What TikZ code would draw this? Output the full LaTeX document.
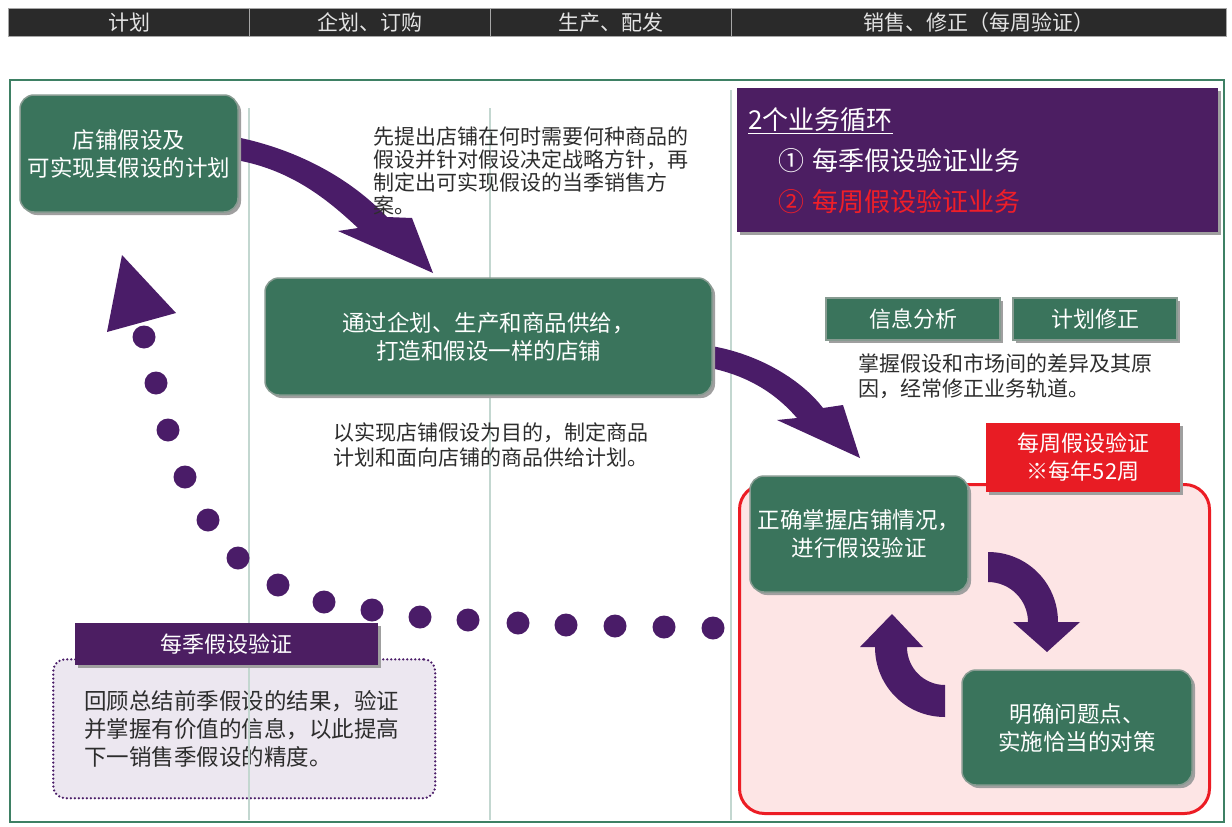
\documentclass[tikz,border=0pt]{standalone}
\usepackage{fontspec}
\setmainfont{Noto Sans CJK SC}
\usetikzlibrary{shadows}
\definecolor{hdr}{RGB}{42,42,42}
\definecolor{hdrtxt}{RGB}{228,228,228}
\definecolor{framegreen}{RGB}{62,128,100}
\definecolor{colline}{RGB}{195,215,208}
\definecolor{gfill}{RGB}{58,116,92}
\definecolor{gedge}{RGB}{135,155,145}
\definecolor{purp}{RGB}{74,28,104}
\definecolor{purpbox}{RGB}{76,30,98}
\definecolor{redbox}{RGB}{232,28,36}
\definecolor{redline}{RGB}{236,28,36}
\definecolor{pinkfill}{RGB}{253,229,229}
\definecolor{lav}{RGB}{236,231,240}
\definecolor{bodytxt}{RGB}{45,45,45}
\definecolor{redtxt}{RGB}{240,30,40}
\begin{document}
\begin{tikzpicture}[x=1pt,y=-1pt,
  hdrcell/.style={draw=gray!70, line width=1pt, fill=hdr, text=hdrtxt, minimum height=28pt, inner sep=0pt, anchor=north west, font=\fontsize{21}{24}\selectfont},
  gshadow/.style={drop shadow={shadow xshift=3pt, shadow yshift=-3pt, fill=gray!75, opacity=1}},
  gbox/.style={gshadow, fill=gfill, draw=gedge, line width=1.5pt, rounded corners=14pt, text=white, align=center, inner sep=0pt, font=\fontsize{22.5}{28}\selectfont},
  gtab/.style={gshadow, fill=gfill, draw=gedge, line width=1.5pt, text=white, inner sep=0pt, font=\fontsize{22}{26}\selectfont},
  bodytext/.style={text=bodytxt, align=left, inner sep=0pt, anchor=north west},
  bigarrow/.style={fill=purp},
]
\useasboundingbox (0,0) rectangle (1232,827);
\fill[white] (0,0) rectangle (1232,827);

% header
\node[hdrcell, minimum width=241pt] (h1) at (8,8) {计划};
\node[hdrcell, minimum width=241pt] (h2) at (249,8) {企划、订购};
\node[hdrcell, minimum width=241pt] (h3) at (490,8) {生产、配发};
\node[hdrcell, minimum width=495pt] (h4) at (731,8) {销售、修正（每周验证）};

% main frame
\draw[draw=framegreen, line width=2pt] (10,80) rectangle (1224,822);

% lavender dotted box
\node[draw=purp, line width=2.5pt, dash pattern=on 0pt off 4pt, line cap=round, fill=lav, rounded corners=12pt,
  minimum width=382pt, minimum height=139pt, inner sep=0pt, text width=320pt, align=left, text=bodytxt,
  font=\fontsize{22.5}{28}\selectfont, anchor=north west] (lavbox) at (52,658)
  {回顾总结前季假设的结果，验证\\并掌握有价值的信息，以此提高\\下一销售季假设的精度。};

% column lines
\draw[draw=colline, line width=1.2pt] (249,108) -- (249,820);
\draw[draw=colline, line width=1.2pt] (490,108) -- (490,820);
\draw[draw=colline, line width=1.2pt] (731,90) -- (731,820);

% seasonal header
\node[gshadow, fill=purpbox, text=white, minimum width=303pt, minimum height=42pt, inner sep=0pt,
  font=\fontsize{22}{26}\selectfont, anchor=north west] (qhead) at (75,623) {每季假设验证};

% big arrows
\fill[bigarrow] (236,137) .. controls (300,150) and (352,180) .. (387,217) -- (412,218) -- (433,273)
  -- (338,231) -- (358,228) .. controls (328,200) and (292,170) .. (236,160) -- cycle;
\fill[bigarrow] (705,345) .. controls (755,352) and (800,378) .. (823,408) -- (843,405) -- (860,458)
  -- (777,420) -- (797,418) .. controls (778,396) and (750,375) .. (705,367) -- cycle;

% dotted return arrow
\foreach \p in {(144,337),(156,383),(168,430),(185,477),(208,520),(238,558),(278,585),(324,602),(372,610),(420,617),(468,620),(518,623),(566,625),(615,626),(664,627),(713,628)}
  \fill[purp] \p circle[radius=11.5pt];
\fill[purp] (122,255) -- (176,313) -- (107,332) -- cycle;

% green boxes
\node[gbox, minimum width=218pt, minimum height=117pt] (plan) at (129,153.5) {店铺假设及\\可实现其假设的计划};
\node[gbox, minimum width=447pt, minimum height=117pt] (supply) at (488.5,336.5) {通过企划、生产和商品供给，\\打造和假设一样的店铺};

% texts
\node[bodytext, font=\fontsize{21}{23}\selectfont] (t1) at (373,127) {先提出店铺在何时需要何种商品的\\假设并针对假设决定战略方针，再\\制定出可实现假设的当季销售方\\案。};
\node[bodytext, font=\fontsize{21}{25}\selectfont] (t2) at (333,423) {以实现店铺假设为目的，制定商品\\计划和面向店铺的商品供给计划。};
\node[bodytext, font=\fontsize{21}{25.5}\selectfont] (t3) at (858,353) {掌握假设和市场间的差异及其原\\因，经常修正业务轨道。};

% purple loops box
\node[gshadow, fill=purpbox, text=white, minimum width=481pt, minimum height=144pt, anchor=north west,
  inner xsep=11pt, inner ysep=0pt, text width=459pt, align=left, font=\fontsize{26}{41}\selectfont] (loops) at (737,88)
  {\underline{2个业务循环}\\\hspace*{30pt}① 每季假设验证业务\\\hspace*{30pt}\textcolor{redtxt}{② 每周假设验证业务}};

% tabs
\node[gtab, minimum width=174pt, minimum height=42pt] (info) at (913,319) {信息分析};
\node[gtab, minimum width=164pt, minimum height=42pt] (revise) at (1095,319) {计划修正};

% weekly area
\node[draw=redline, line width=3pt, fill=pinkfill, rounded corners=25pt, minimum width=470pt, minimum height=329pt,
  inner sep=0pt, anchor=north west] (pinkbox) at (738,483) {};
\node[gshadow, fill=redbox, text=white, align=center, minimum width=194pt, minimum height=69pt, inner sep=0pt,
  font=\fontsize{22}{28}\selectfont] (weekly) at (1083,457.5) {每周假设验证\\※每年52周};
\node[gbox, minimum width=218pt, minimum height=116pt] (grasp) at (859,534) {正确掌握店铺情况，\\进行假设验证};
\node[gbox, minimum width=230pt, minimum height=115pt] (act) at (1077,727.5) {明确问题点、\\实施恰当的对策};

% cycle arrows
\fill[bigarrow] (988,552) .. controls (1027,552) and (1058,583) .. (1058,622) -- (1080,622) -- (1047,652)
  -- (1013,622) -- (1028,622) .. controls (1028,600) and (1010,582) .. (988,582) -- cycle;
\fill[bigarrow] (945,717) .. controls (906,717) and (875,686) .. (875,647) -- (860,647) -- (892,614)
  -- (923,647) -- (907,647) .. controls (907,668) and (924,685) .. (945,685) -- cycle;
\end{tikzpicture}
\end{document}
